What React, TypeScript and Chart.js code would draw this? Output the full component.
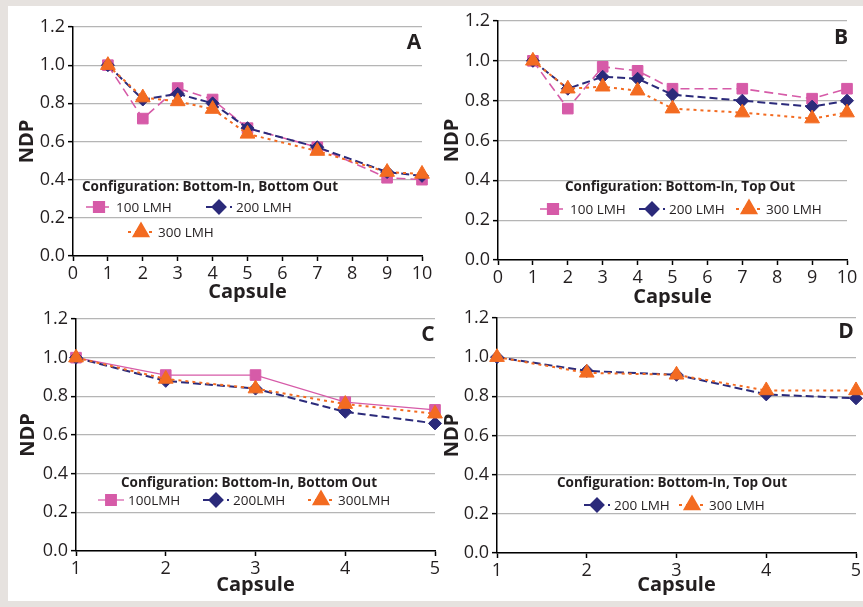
import React, { useEffect, useRef } from "react";
import { Chart, registerables } from "chart.js";
import { drawPoint } from "chart.js/helpers";

Chart.register(...registerables);

// ---------- DATA ----------
const capsulesAB = [1, 2, 3, 4, 5, 7, 9, 10];
const a100 = [1.0, 0.72, 0.88, 0.82, 0.67, 0.57, 0.41, 0.4];
const a200 = [1.0, 0.82, 0.85, 0.8, 0.67, 0.57, 0.44, 0.42];
const a300 = [1.0, 0.83, 0.81, 0.77, 0.64, 0.55, 0.44, 0.43];

const b100 = [1.0, 0.76, 0.97, 0.95, 0.86, 0.86, 0.81, 0.86];
const b200 = [1.0, 0.86, 0.92, 0.91, 0.83, 0.8, 0.77, 0.8];
const b300 = [1.0, 0.86, 0.87, 0.85, 0.76, 0.74, 0.71, 0.74];

const capsulesCD = [1, 2, 3, 4, 5];
const c100 = [1.0, 0.91, 0.91, 0.77, 0.73];
const c200 = [1.0, 0.88, 0.84, 0.72, 0.66];
const c300 = [1.0, 0.89, 0.84, 0.76, 0.71];

const d200 = [1.0, 0.93, 0.91, 0.81, 0.79];
const d300 = [1.0, 0.92, 0.91, 0.83, 0.83];

const xTicksAB = [0, 10];
const xTicksCD = [1, 5];
const yRange = [0, 1.2];
const yStep = 0.2;

// ---------- STYLES ----------
const FONT = "'Open Sans', sans-serif";
const TXT = "#231f20";
const S100 = { color: "#d65ba8", pointStyle: "rect", radius: 7.5, dash: [9, 5], width: 1.6 };
const S100solid = { color: "#d65ba8", pointStyle: "rect", radius: 7.5, dash: [], width: 1.2 };
const S200 = { color: "#2b2a7a", pointStyle: "rectRot", radius: 6.5, dash: [8, 4], width: 2 };
const S300 = { color: "#f36b21", pointStyle: "triangle", radius: 8.5, dash: [3, 4], width: 2 };

type Series = { label: string; data: number[]; style: any };

const zip = (xs: number[], ys: number[]) => xs.map((x, i) => ({ x, y: ys[i] }));

const panels = [
  {
    key: "A",
    rect: { left: 8, top: 6, width: 432, height: 296 },
    pad: { top: 21, right: 18 },
    yWidth: 65,
    xHeight: 46,
    yTitlePad: 9,
    xRange: xTicksAB,
    xs: capsulesAB,
    series: [
      { label: "100 LMH", data: a100, style: S100 },
      { label: "200 LMH", data: a200, style: S200 },
      { label: "300 LMH", data: a300, style: S300 },
    ] as Series[],
    legendTitle: "Configuration: Bottom-In, Bottom Out",
    legendTitlePos: [202, 181],
    legendItems: [
      [0, 91, 201],
      [1, 211, 201],
      [2, 133, 226],
    ],
    letterPos: [406, 37],
  },
  {
    key: "B",
    rect: { left: 432, top: 6, width: 431, height: 301 },
    pad: { top: 15, right: 16 },
    yWidth: 66,
    xHeight: 47,
    yTitlePad: 10,
    xRange: xTicksAB,
    xs: capsulesAB,
    series: [
      { label: "100 LMH", data: b100, style: S100 },
      { label: "200 LMH", data: b200, style: S200 },
      { label: "300 LMH", data: b300, style: S300 },
    ] as Series[],
    legendTitle: "Configuration: Bottom-In, Top Out",
    legendTitlePos: [248, 181],
    legendItems: [
      [0, 121, 203],
      [1, 220, 203],
      [2, 317, 203],
    ],
    letterPos: [409, 32],
  },
  {
    key: "C",
    rect: { left: 8, top: 300, width: 440, height: 295 },
    pad: { top: 19, right: 13 },
    yWidth: 68,
    xHeight: 44,
    yTitlePad: 10,
    xRange: xTicksCD,
    xs: capsulesCD,
    series: [
      { label: "100LMH", data: c100, style: S100solid },
      { label: "200LMH", data: c200, style: S200 },
      { label: "300LMH", data: c300, style: S300 },
    ] as Series[],
    legendTitle: "Configuration: Bottom-In, Bottom Out",
    legendTitlePos: [241, 183],
    legendItems: [
      [0, 103, 200],
      [1, 208, 200],
      [2, 313, 200],
    ],
    letterPos: [420, 35],
  },
  {
    key: "D",
    rect: { left: 432, top: 300, width: 431, height: 295 },
    pad: { top: 18, right: 7 },
    yWidth: 65,
    xHeight: 42,
    yTitlePad: 10,
    xRange: xTicksCD,
    xs: capsulesCD,
    series: [
      { label: "200 LMH", data: d200, style: S200 },
      { label: "300 LMH", data: d300, style: S300 },
    ] as Series[],
    legendTitle: "Configuration: Bottom-In, Top Out",
    legendTitlePos: [240, 183],
    legendItems: [
      [0, 165, 205],
      [1, 260, 205],
    ],
    letterPos: [414, 32],
  },
];

const overlayPlugin = {
  id: "overlay",
  afterDraw(chart: any, _args: any, opts: any) {
    const ctx = chart.ctx;
    const p = opts.panel;
    ctx.save();
    // legend title
    ctx.fillStyle = TXT;
    ctx.font = `bold 13.5px ${FONT}`;
    ctx.textAlign = "center";
    ctx.textBaseline = "middle";
    ctx.fillText(p.legendTitle, p.legendTitlePos[0], p.legendTitlePos[1]);
    // items
    for (const [si, x, y] of p.legendItems) {
      const s = p.series[si];
      const st = s.style;
      ctx.save();
      ctx.strokeStyle = st.color;
      ctx.lineWidth = st.width;
      ctx.setLineDash(st.dash);
      ctx.beginPath();
      ctx.moveTo(x - 13, y);
      ctx.lineTo(x + 13, y);
      ctx.stroke();
      ctx.setLineDash([]);
      ctx.fillStyle = st.color;
      ctx.strokeStyle = st.color;
      drawPoint(ctx, { pointStyle: st.pointStyle, radius: st.radius, rotation: 0, borderWidth: 1 }, x, y);
      ctx.restore();
      ctx.fillStyle = TXT;
      ctx.font = `13.5px ${FONT}`;
      ctx.textAlign = "left";
      ctx.textBaseline = "middle";
      ctx.fillText(s.label, x + 17, y + 1);
    }
    // panel letter
    ctx.font = `bold 21px ${FONT}`;
    ctx.textAlign = "center";
    ctx.textBaseline = "middle";
    ctx.fillStyle = TXT;
    ctx.fillText(p.key, p.letterPos[0], p.letterPos[1]);
    ctx.restore();
  },
};

const zeroPad = (s: any) => {
  s.paddingLeft = 0;
  s.paddingRight = 0;
  s.paddingTop = 0;
  s.paddingBottom = 0;
};

function Panel({ p }: { p: (typeof panels)[number] }) {
  const ref = useRef<HTMLCanvasElement>(null);
  useEffect(() => {
    if (!ref.current) return;
    const n = p.series.length;
    const chart = new Chart(ref.current, {
      type: "line",
      data: {
        datasets: p.series.map((s, i) => ({
          label: s.label,
          data: zip(p.xs, s.data),
          borderColor: s.style.color,
          backgroundColor: s.style.color,
          borderWidth: s.style.width,
          borderDash: s.style.dash,
          pointStyle: s.style.pointStyle,
          pointRadius: s.style.radius,
          pointBorderWidth: 1,
          pointBackgroundColor: s.style.color,
          pointBorderColor: s.style.color,
          tension: 0,
          fill: false,
          clip: false as any,
          order: n - i,
        })),
      },
      options: {
        animation: false,
        responsive: false,
        events: [],
        layout: { autoPadding: false, padding: { top: p.pad.top, right: p.pad.right, left: 0, bottom: 0 } },
        plugins: {
          legend: { display: false },
          tooltip: { enabled: false },
          overlay: { panel: p },
        } as any,
        scales: {
          x: {
            type: "linear",
            min: p.xRange[0],
            max: p.xRange[1],
            ticks: {
              stepSize: 1,
              autoSkip: false,
              maxRotation: 0,
              padding: 2,
              color: TXT,
              font: { family: FONT, size: 18 },
              callback: (v: any) => String(v),
            },
            grid: {
              drawOnChartArea: false,
              drawTicks: true,
              tickLength: 5,
              tickColor: "#000",
              tickWidth: 1.5,
            },
            border: { display: true, color: "#000", width: 1.5 },
            title: {
              display: true,
              text: "Capsule",
              color: TXT,
              padding: 0,
              font: { family: FONT, size: 20, weight: "bold", lineHeight: 1 },
            },
            afterFit: (s: any) => {
              s.height = p.xHeight;
              zeroPad(s);
            },
          },
          y: {
            type: "linear",
            min: yRange[0],
            max: yRange[1],
            ticks: {
              stepSize: yStep,
              padding: 3,
              color: TXT,
              font: { family: FONT, size: 18 },
              callback: (v: any) => Number(v).toFixed(1),
            },
            grid: {
              color: "#b5b5b5",
              lineWidth: 1.3,
              drawTicks: true,
              tickLength: 5,
              tickColor: "#000",
              tickWidth: 1.5,
            },
            border: { display: true, color: "#000", width: 1.5 },
            title: {
              display: true,
              text: "NDP",
              color: TXT,
              padding: { top: p.yTitlePad, bottom: 0 },
              font: { family: FONT, size: 20, weight: "bold", lineHeight: 1 },
            },
            afterFit: (s: any) => {
              s.width = p.yWidth;
              zeroPad(s);
            },
          },
        },
      } as any,
      plugins: [overlayPlugin],
    });
    return () => chart.destroy();
  }, [p]);
  return (
    <canvas
      ref={ref}
      width={p.rect.width}
      height={p.rect.height}
      style={{
        position: "absolute",
        left: p.rect.left,
        top: p.rect.top,
        width: p.rect.width,
        height: p.rect.height,
      }}
    />
  );
}

export default function App() {
  return (
    <div style={{ position: "fixed", left: 0, top: 0, width: 863, height: 607, background: "#e6e2df", overflow: "hidden" }}>
      <div style={{ position: "absolute", left: 8, top: 6, width: 855, height: 595, background: "#ffffff" }} />
      {panels.map((p) => (
        <Panel key={p.key} p={p} />
      ))}
    </div>
  );
}
